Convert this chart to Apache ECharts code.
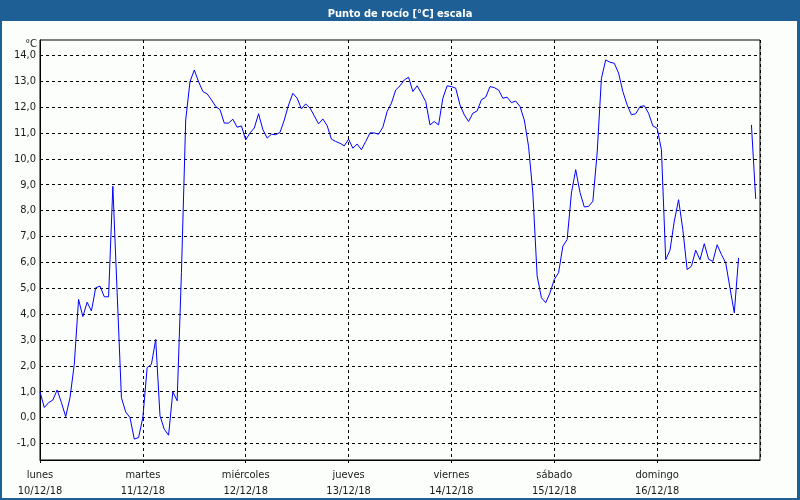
<!DOCTYPE html>
<html>
<head>
<meta charset="utf-8">
<script src="https://cdn.jsdelivr.net/npm/echarts@6/dist/echarts.min.js"></script>
<style>
html,body{margin:0;padding:0;background:#1e5f96;}
#c{width:800px;height:500px;}
</style>
</head>
<body>
<div id="c"></div>
<script>
// Hourly dew point values (°C), starting Monday 10/12/18 00:00
var dewPoint = [
  1.0, 0.39, 0.58, 0.68, 1.07, 0.58, 0.04, 0.77, 2.06, 4.57, 3.9, 4.46,
  4.12, 5.02, 5.08, 4.67, 4.67, 8.94, 4.82, 0.77, 0.22, 0.0, -0.83, -0.77,
  0.0, 1.93, 2.06, 3.02, 0.07, -0.45, -0.68, 1.0, 0.65, 5.6, 11.5, 12.98,
  13.43, 12.98, 12.6, 12.51, 12.28, 12.02, 11.9, 11.38, 11.38, 11.53, 11.22, 11.27,
  10.73, 11.0, 11.19, 11.74, 11.13, 10.8, 10.95, 10.93, 11.02, 11.5, 12.08, 12.53,
  12.34, 11.93, 12.12, 11.96, 11.66, 11.35, 11.54, 11.28, 10.76, 10.67, 10.6, 10.5,
  10.76, 10.41, 10.57, 10.35, 10.67, 11.0, 11.0, 10.95, 11.22, 11.83, 12.15, 12.66,
  12.82, 13.05, 13.15, 12.6, 12.82, 12.53, 12.21, 11.31, 11.44, 11.31, 12.34, 12.82,
  12.79, 12.73, 12.08, 11.7, 11.44, 11.76, 11.85, 12.28, 12.38, 12.79, 12.75, 12.66,
  12.34, 12.38, 12.17, 12.23, 12.02, 11.5, 10.48, 8.68, 5.47, 4.63, 4.44, 4.82,
  5.34, 5.6, 6.62, 6.88, 8.68, 9.58, 8.7, 8.14, 8.16, 8.36, 10.22, 13.11,
  13.82, 13.73, 13.69, 13.31, 12.6, 12.08, 11.7, 11.74, 12.02, 12.05, 11.76, 11.27,
  11.18, 10.35, 6.1, 6.47, 7.59, 8.42, 7.26, 5.72, 5.85, 6.47, 6.1, 6.72,
  6.12, 6.04, 6.68, 6.3, 5.98, 5.0, 4.05, 6.17, null, null, 11.31, 8.45
];
var dayNames = ['lunes', 'martes', 'miércoles', 'jueves', 'viernes', 'sábado', 'domingo'];
var dayDates = ['10/12/18', '11/12/18', '12/12/18', '13/12/18', '14/12/18', '15/12/18', '16/12/18'];
var yTicks = [-1, 0, 1, 2, 3, 4, 5, 6, 7, 8, 9, 10, 11, 12, 13, 14];

var seriesData = dewPoint.map(function (v, i) { return [i, v]; });

var chart = echarts.init(document.getElementById('c'));
var FONT = 'DejaVu Sans Condensed';
chart.setOption({
  backgroundColor: '#1e5f96',
  animation: false,
  title: {
    text: 'Punto de rocío [°C] escala',
    left: 'center',
    top: 4,
    textStyle: { color: '#ffffff', fontSize: 11, fontWeight: 'bold', fontFamily: FONT }
  },
  graphic: [{
    type: 'rect', z: -10, silent: true,
    shape: { x: 2, y: 21, width: 795, height: 477 },
    style: { fill: '#fcfefc' }
  }],
  grid: {
    left: 40, right: 40, top: 40, bottom: 40,
    show: true, borderColor: '#000', borderWidth: 1, backgroundColor: 'transparent'
  },
  xAxis: {
    type: 'value',
    min: 0, max: 168, interval: 24,
    axisLine: { show: true, onZero: false, lineStyle: { color: '#000', width: 1 } },
    axisTick: { show: true, length: 3, lineStyle: { color: '#000' } },
    splitLine: { show: true, lineStyle: { color: '#000', type: [3, 3], width: 1 } },
    axisLabel: {
      color: '#1a1a1a', fontFamily: FONT, fontSize: 11, margin: 7, lineHeight: 16,
      showMaxLabel: false,
      formatter: function (v) {
        var d = Math.round(v / 24);
        if (d >= dayNames.length) return '';
        return dayNames[d] + '\n' + dayDates[d];
      }
    }
  },
  yAxis: {
    type: 'value',
    min: -1.637, max: 14.59,
    name: '°C',
    nameLocation: 'end',
    nameGap: -4,
    nameTextStyle: { color: '#1a1a1a', fontFamily: FONT, fontSize: 11, align: 'right', verticalAlign: 'top', padding: [0, 3, 0, 0] },
    axisLine: { show: true, lineStyle: { color: '#000', width: 1 } },
    axisTick: { show: false, customValues: yTicks },
    splitLine: { show: true, lineStyle: { color: '#000', type: [3, 3], width: 1 } },
    axisLabel: {
      color: '#1a1a1a', fontFamily: FONT, fontSize: 11, margin: 4,
      customValues: yTicks,
      formatter: function (v) {
        return Number(v).toFixed(1).replace('.', ',');
      }
    }
  },
  series: [{
    type: 'line',
    data: seriesData,
    showSymbol: false,
    connectNulls: false,
    lineStyle: { color: '#0000ff', width: 1 },
    itemStyle: { color: '#0000ff' }
  }]
});
</script>
</body>
</html>
